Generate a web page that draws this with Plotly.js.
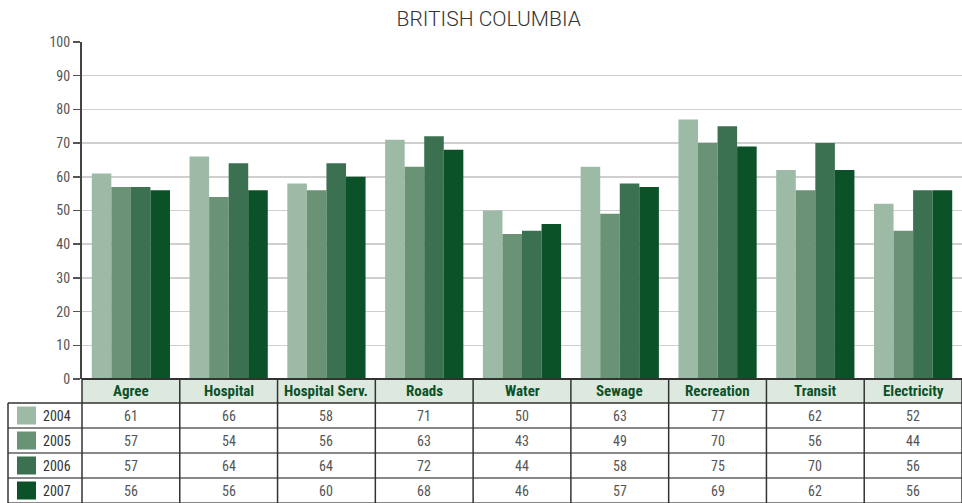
<!DOCTYPE html>
<html>
<head>
<meta charset="utf-8">
<script src="https://cdn.plot.ly/plotly-3.0.1.min.js"></script>
<style>html,body{margin:0;padding:0;background:#fff;}#chart{width:962px;height:503px;}</style>
</head>
<body>
<div id="chart"></div>
<script>
const categories = ["Agree", "Hospital", "Hospital Serv.", "Roads", "Water", "Sewage", "Recreation", "Transit", "Electricity"];
const years = ["2004", "2005", "2006", "2007"];
const v2004 = [61, 66, 58, 71, 50, 63, 77, 62, 52];
const v2005 = [57, 54, 56, 63, 43, 49, 70, 56, 44];
const v2006 = [57, 64, 64, 72, 44, 58, 75, 70, 56];
const v2007 = [56, 56, 60, 68, 46, 57, 69, 62, 56];
const colors = ["#9dbaa6", "#6a9375", "#3b7150", "#0b5229"];
const series = [v2004, v2005, v2006, v2007];

const W = 962, H = 503, L = 82, R = 0, T = 42, B = 124;
const pw = W - L - R, ph = H - T - B;
const px2x = p => (p - L) / pw;
const py2y = p => (H - B - p) / ph;

const condensed = "'Liberation Sans Narrow', 'Roboto Condensed', 'Arial Narrow', 'DejaVu Sans Condensed', sans-serif";

const traces = series.map((vals, i) => ({
  type: "bar",
  name: years[i],
  x: categories,
  y: vals,
  marker: {color: colors[i], line: {width: 0}},
  showlegend: false,
  hoverinfo: "x+y+name"
}));

const shapes = [];
const annotations = [];
const headTop = py2y(379), headBot = py2y(403);
const rowEdges = [403, 428, 453, 478, 503].map(py2y);
const leftX = px2x(8);

// header background
shapes.push({type: "rect", xref: "paper", yref: "paper", x0: 0, x1: 1, y0: headBot, y1: headTop,
  fillcolor: "#dde8de", line: {width: 0}, layer: "below"});
// horizontal lines
shapes.push({type: "line", xref: "paper", yref: "paper", x0: 0, x1: 1, y0: headTop, y1: headTop,
  line: {color: "#333", width: 2}});
rowEdges.forEach((y, i) => {
  shapes.push({type: "line", xref: "paper", yref: "paper", x0: leftX, x1: 1, y0: y, y1: y,
    line: {color: i === 0 ? "#333" : "#888", width: i === 0 ? 1.5 : 2}});
});
// vertical column lines
for (let k = 0; k <= categories.length; k++) {
  shapes.push({type: "line", xref: "paper", yref: "paper", x0: k / categories.length, x1: k / categories.length,
    y0: headTop, y1: rowEdges[4], line: {color: "#333", width: 1.5}});
}
// left column outer line
shapes.push({type: "line", xref: "paper", yref: "paper", x0: leftX, x1: leftX,
  y0: rowEdges[0], y1: rowEdges[4], line: {color: "#333", width: 1.5}});

// header labels
categories.forEach(c => {
  annotations.push({xref: "x", yref: "paper", x: c, y: (headTop + headBot) / 2, text: "<b>" + c + "</b>",
    showarrow: false, font: {family: condensed, size: 15, color: "#0b5229"}, yanchor: "middle"});
});
// rows
series.forEach((vals, r) => {
  const yc = (rowEdges[r] + rowEdges[r + 1]) / 2;
  shapes.push({type: "rect", xref: "paper", yref: "paper", x0: px2x(17), x1: px2x(36),
    y0: yc - 9 / ph, y1: yc + 9 / ph, fillcolor: colors[r], line: {width: 0}});
  annotations.push({xref: "paper", yref: "paper", x: px2x(73), y: yc, text: years[r], xanchor: "right",
    yanchor: "middle", showarrow: false, font: {family: condensed, size: 14, color: "#333"}});
  vals.forEach((v, c) => {
    annotations.push({xref: "x", yref: "paper", x: categories[c], y: yc, text: String(v),
      showarrow: false, yanchor: "middle", font: {family: condensed, size: 14, color: "#555"}});
  });
});

const layout = {
  width: W, height: H,
  margin: {l: L, r: R, t: T, b: B, pad: 0},
  paper_bgcolor: "#fff", plot_bgcolor: "#fff",
  title: {text: "BRITISH COLUMBIA", x: 0.508, xref: "container", y: 1 - 19 / H, yref: "container",
    yanchor: "middle", font: {family: "Roboto, 'Open Sans', sans-serif", weight: 300, size: 21, color: "#333"}},
  barmode: "group", bargap: 0.2, bargroupgap: 0,
  xaxis: {type: "category", range: [-0.5, categories.length - 0.5], showticklabels: false,
    showgrid: false, zeroline: false, ticks: "", showline: false, fixedrange: true},
  yaxis: {range: [0, 100], dtick: 10, showgrid: true, gridcolor: "#cfcfcf", gridwidth: 1.5,
    zeroline: false, showline: true, linecolor: "#444", linewidth: 2, ticks: "outside", ticklen: 7,
    tickcolor: "#555", tickwidth: 1.5, tickfont: {family: condensed, size: 14, color: "#555"},
    fixedrange: true},
  shapes: shapes,
  annotations: annotations
};

Plotly.newPlot("chart", traces, layout, {displayModeBar: false, staticPlot: true});
</script>
</body>
</html>
